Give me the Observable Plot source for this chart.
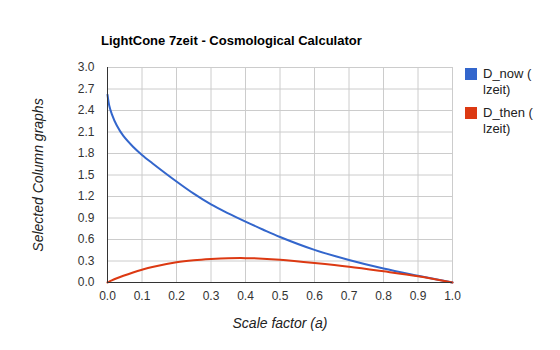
<!DOCTYPE html>
<html>
<head>
<meta charset="utf-8">
<script src="https://cdn.jsdelivr.net/npm/d3@7"></script>
<script src="https://cdn.jsdelivr.net/npm/@observablehq/plot@0.6"></script>
<style>
  html, body { margin: 0; padding: 0; background: #fff; }
  #wrap { position: relative; width: 560px; height: 350px; font-family: Arial, "Liberation Sans", sans-serif; }
  #title { position: absolute; left: 101px; top: 33px; font-size: 13px; font-weight: bold; color: #000; }
  .leg { position: absolute; left: 466px; font-size: 13px; color: #222; line-height: 16px; }
  .sw { position: absolute; left: -1px; top: 2px; width: 12px; height: 12px; }
  .lt { margin-left: 17px; }
</style>
</head>
<body>
<div id="wrap">
  <div id="chart"></div>
  <div id="title">LightCone 7zeit - Cosmological Calculator</div>
  <div id="legend"></div>
</div>
<script>
const scaleFactor = [0, 0.005, 0.0125, 0.027, 0.046, 0.074, 0.1, 0.13, 0.2, 0.25, 0.3, 0.35, 0.4, 0.45, 0.5, 0.6, 0.7, 0.8, 0.9, 1.0];
const dNow  = [2.62, 2.47, 2.35, 2.19, 2.045, 1.895, 1.78, 1.665, 1.41, 1.24, 1.09, 0.965, 0.85, 0.74, 0.635, 0.455, 0.315, 0.195, 0.095, 0];
const dThen = [0, 0.0124, 0.0294, 0.059, 0.094, 0.14, 0.178, 0.216, 0.282, 0.31, 0.327, 0.338, 0.34, 0.333, 0.318, 0.273, 0.221, 0.156, 0.086, 0];
const seriesNames = ["D_now (\nlzeit)", "D_then (\nlzeit)"];
const seriesColors = ["#3366cc", "#dc3912"];
const xTicks = [0, 0.1, 0.2, 0.3, 0.4, 0.5, 0.6, 0.7, 0.8, 0.9, 1.0];
const yTicks = [0, 0.3, 0.6, 0.9, 1.2, 1.5, 1.8, 2.1, 2.4, 2.7, 3.0];

const rows = [];
scaleFactor.forEach((a, i) => {
  rows.push({a, d: dNow[i], s: seriesNames[0]});
  rows.push({a, d: dThen[i], s: seriesNames[1]});
});

const plot = Plot.plot({
  width: 560,
  height: 350,
  marginLeft: 107,
  marginRight: 108,
  marginTop: 67,
  marginBottom: 68,
  style: {fontFamily: "Arial, 'Liberation Sans', sans-serif", fontSize: "12px", color: "#444", background: "#fff"},
  x: {domain: [0, 1], ticks: xTicks, tickFormat: d3.format(".1f"), label: null},
  y: {domain: [0, 3], ticks: yTicks, tickFormat: d3.format(".1f"), label: null},
  color: {domain: seriesNames, range: seriesColors},
  marks: [
    Plot.gridX(xTicks, {stroke: "#ccc", strokeOpacity: 1}),
    Plot.gridY(yTicks, {stroke: "#ccc", strokeOpacity: 1}),
    Plot.axisX({ticks: xTicks, tickSize: 0, tickPadding: 9, tickFormat: d3.format(".1f"), label: null, fontSize: 12, fill: "#333"}),
    Plot.axisY({ticks: yTicks, tickSize: 0, tickPadding: 13, tickFormat: d3.format(".1f"), label: null, fontSize: 12, fill: "#333"}),
    Plot.line(rows, {x: "a", y: "d", z: "s", stroke: "s", strokeWidth: 2, curve: "catmull-rom"}),
    Plot.ruleY([0], {stroke: "#333", strokeWidth: 1}),
    Plot.ruleX([0], {stroke: "#333", strokeWidth: 1}),
    Plot.text(["Scale factor (a)"], {frameAnchor: "bottom", dy: 45, fontStyle: "italic", fontSize: 14, fill: "#222"}),
    Plot.text(["Selected Column graphs"], {frameAnchor: "left", dx: -69, rotate: -90, textAnchor: "middle", fontStyle: "italic", fontSize: 14, fill: "#222"})
  ]
});
document.getElementById("chart").appendChild(plot);

const legend = document.getElementById("legend");
seriesNames.forEach((name, i) => {
  const div = document.createElement("div");
  div.className = "leg";
  div.style.top = (66 + i * 39) + "px";
  const sw = document.createElement("div");
  sw.className = "sw";
  sw.style.background = seriesColors[i];
  const lines = name.split("\n");
  const t = document.createElement("div");
  t.className = "lt";
  t.innerHTML = lines.map(l => l.replace(/&/g, "&amp;").replace(/</g, "&lt;")).join("<br>");
  div.appendChild(sw);
  div.appendChild(t);
  legend.appendChild(div);
});
</script>
</body>
</html>
